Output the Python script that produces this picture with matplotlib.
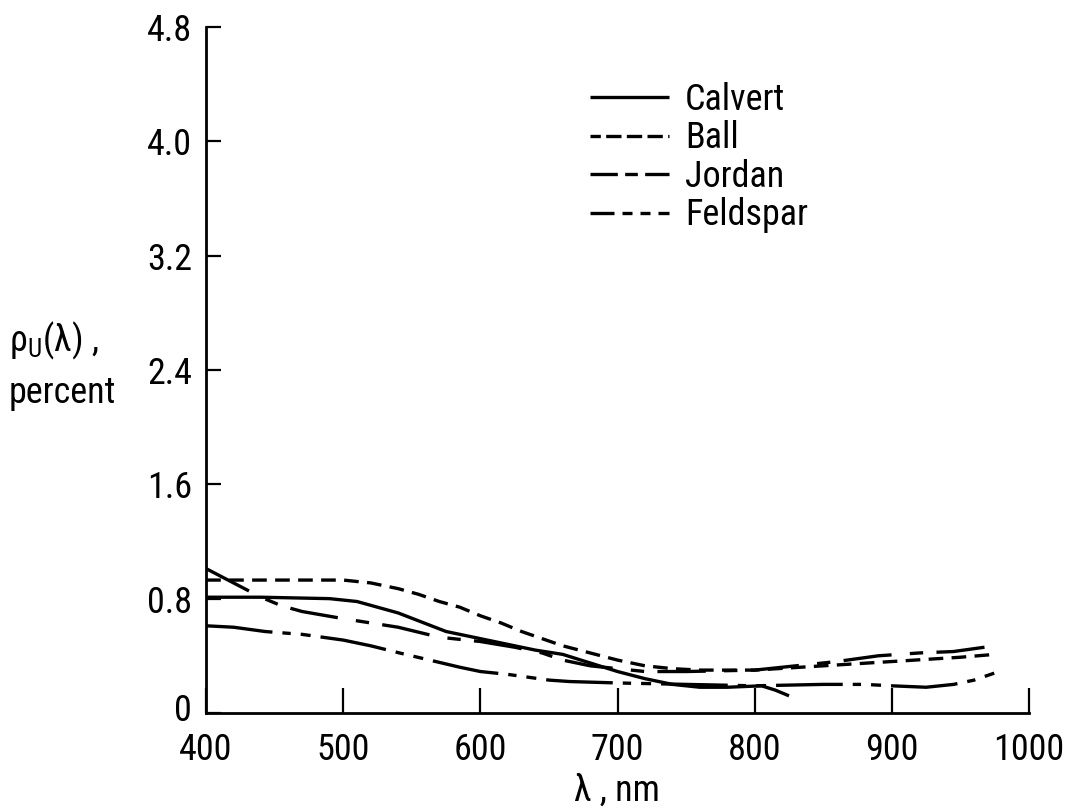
import matplotlib
matplotlib.use("Agg")
import matplotlib.pyplot as plt
import matplotlib.transforms as mtransforms
from matplotlib import font_manager
from matplotlib.lines import Line2D

# ---------------- data ----------------
calvert_x = [400, 440, 490, 510, 540, 575, 600, 640, 660, 680, 700, 720, 740, 760, 780, 805, 815, 825]
calvert_y = [0.81, 0.81, 0.80, 0.78, 0.70, 0.57, 0.52, 0.44, 0.41, 0.35, 0.29, 0.24, 0.20, 0.18, 0.18, 0.19, 0.16, 0.12]

ball_x = [400, 450, 500, 520, 540, 555, 570, 585, 600, 615, 630, 645, 660, 680, 700, 720, 740, 760, 800, 850, 900, 950, 975]
ball_y = [0.93, 0.93, 0.93, 0.91, 0.87, 0.83, 0.78, 0.74, 0.68, 0.63, 0.57, 0.52, 0.47, 0.42, 0.37, 0.33, 0.31, 0.30, 0.30, 0.33, 0.36, 0.39, 0.41]

jordan_x = [400, 420, 440, 455, 470, 500, 520, 540, 570, 590, 600, 625, 645, 660, 680, 700, 720, 750, 800, 830, 860, 890, 920, 945, 975]
jordan_y = [1.01, 0.91, 0.81, 0.75, 0.71, 0.66, 0.63, 0.60, 0.53, 0.51, 0.50, 0.46, 0.42, 0.37, 0.33, 0.31, 0.29, 0.29, 0.30, 0.33, 0.36, 0.40, 0.42, 0.43, 0.47]

feldspar_x = [400, 420, 443, 470, 500, 520, 541, 563, 585, 600, 620, 650, 665, 700, 750, 800, 850, 880, 900, 925, 945, 960, 975]
feldspar_y = [0.61, 0.60, 0.57, 0.55, 0.51, 0.47, 0.42, 0.37, 0.32, 0.29, 0.27, 0.23, 0.22, 0.21, 0.20, 0.19, 0.20, 0.20, 0.19, 0.18, 0.20, 0.23, 0.28]

series_names = ["Calvert", "Ball", "Jordan", "Feldspar"]
x_ticks = [400, 500, 600, 700, 800, 900, 1000]
y_ticks = [0, 0.8, 1.6, 2.4, 3.2, 4.0, 4.8]
y_tick_labels = ["0", "0.8", "1.6", "2.4", "3.2", "4.0", "4.8"]

# ---------------- style ----------------
fonts = font_manager.fontManager.ttflist
names = {f.name for f in fonts}
fam = None
stretch = "normal"
for cand in ["Liberation Sans Narrow", "Roboto Condensed", "Open Sans Condensed", "DejaVu Sans Condensed"]:
    if cand in names:
        fam = cand
        break
if fam is None:
    if any(f.name == "DejaVu Sans" and f.stretch == "condensed" for f in fonts):
        fam = "DejaVu Sans"
        stretch = "condensed"
    else:
        fam = "Liberation Sans"
plt.rcParams["font.family"] = [fam, "DejaVu Sans"]
plt.rcParams["font.stretch"] = stretch
plt.rcParams["mathtext.fontset"] = "custom"
plt.rcParams["mathtext.rm"] = fam
plt.rcParams["mathtext.it"] = fam

FS = 26
LW = 2.4

fig = plt.figure(figsize=(10.68, 8.09), dpi=100)
ax = fig.add_axes([0.193, 0.1187, 0.7705, 0.8479])

styles = {
    "Calvert": "-",
    "Ball": (0, (4.4, 2.5)),
    "Jordan": (0, (14.5, 5.5, 4, 4)),
    "Feldspar": (0, (20, 3, 2.5, 3, 3, 3)),
}
data = {
    "Calvert": (calvert_x, calvert_y),
    "Ball": (ball_x, ball_y),
    "Jordan": (jordan_x, jordan_y),
    "Feldspar": (feldspar_x, feldspar_y),
}
for name in series_names:
    xs, ys = data[name]
    ax.plot(xs, ys, color="black", lw=LW, linestyle=styles[name],
            solid_capstyle="butt", dash_capstyle="butt")

ax.set_xlim(400, 1000)
ax.set_ylim(0, 4.8)
ax.spines["top"].set_visible(False)
ax.spines["right"].set_visible(False)
ax.spines["left"].set_linewidth(2)
ax.spines["bottom"].set_linewidth(2)
ax.set_xticks(x_ticks)
ax.set_xticklabels([str(v) for v in x_ticks])
ax.set_yticks(y_ticks)
ax.set_yticklabels(y_tick_labels)
ax.tick_params(axis="x", direction="in", length=18, width=1.6, pad=14, labelsize=FS)
ax.tick_params(axis="y", direction="in", length=11, width=1.6, pad=10, labelsize=FS)

# nudge the "0" y label up a little so it clears the "400" x label
zero_lbl = ax.yaxis.get_major_ticks()[0].label1
zero_lbl.set_transform(zero_lbl.get_transform() +
                       mtransforms.ScaledTranslation(0, 4 / 72, fig.dpi_scale_trans))

# legend with its own dash proxies
leg_styles = {
    "Calvert": "-",
    "Ball": (1.5, (4.6, 1.6)),
    "Jordan": (0, (8.2, 2.2, 3.8, 2.2, 9)),
    "Feldspar": (0, (7.2, 2.4, 3.0, 2.4, 3.0, 2.4, 4)),
}
handles = [Line2D([0], [0], color="black", lw=LW, linestyle=leg_styles[n],
                  solid_capstyle="butt", dash_capstyle="butt") for n in series_names]
fig.legend(handles, series_names, loc="upper left", bbox_to_anchor=(0.552, 0.899),
           frameon=False, fontsize=FS, handlelength=2.2, handletextpad=0.45,
           labelspacing=0.07, borderpad=0, borderaxespad=0)

# axis labels
fig.text(0.008, 0.579, r"$\mathregular{\rho_U(\lambda)}$ ,", fontsize=FS, ha="left", va="center")
fig.text(0.008, 0.514, "percent", fontsize=FS, ha="left", va="center")
fig.text(0.578, 0.023, "λ , nm", fontsize=FS, ha="center", va="center")

fig.savefig("out.png", dpi=100)
